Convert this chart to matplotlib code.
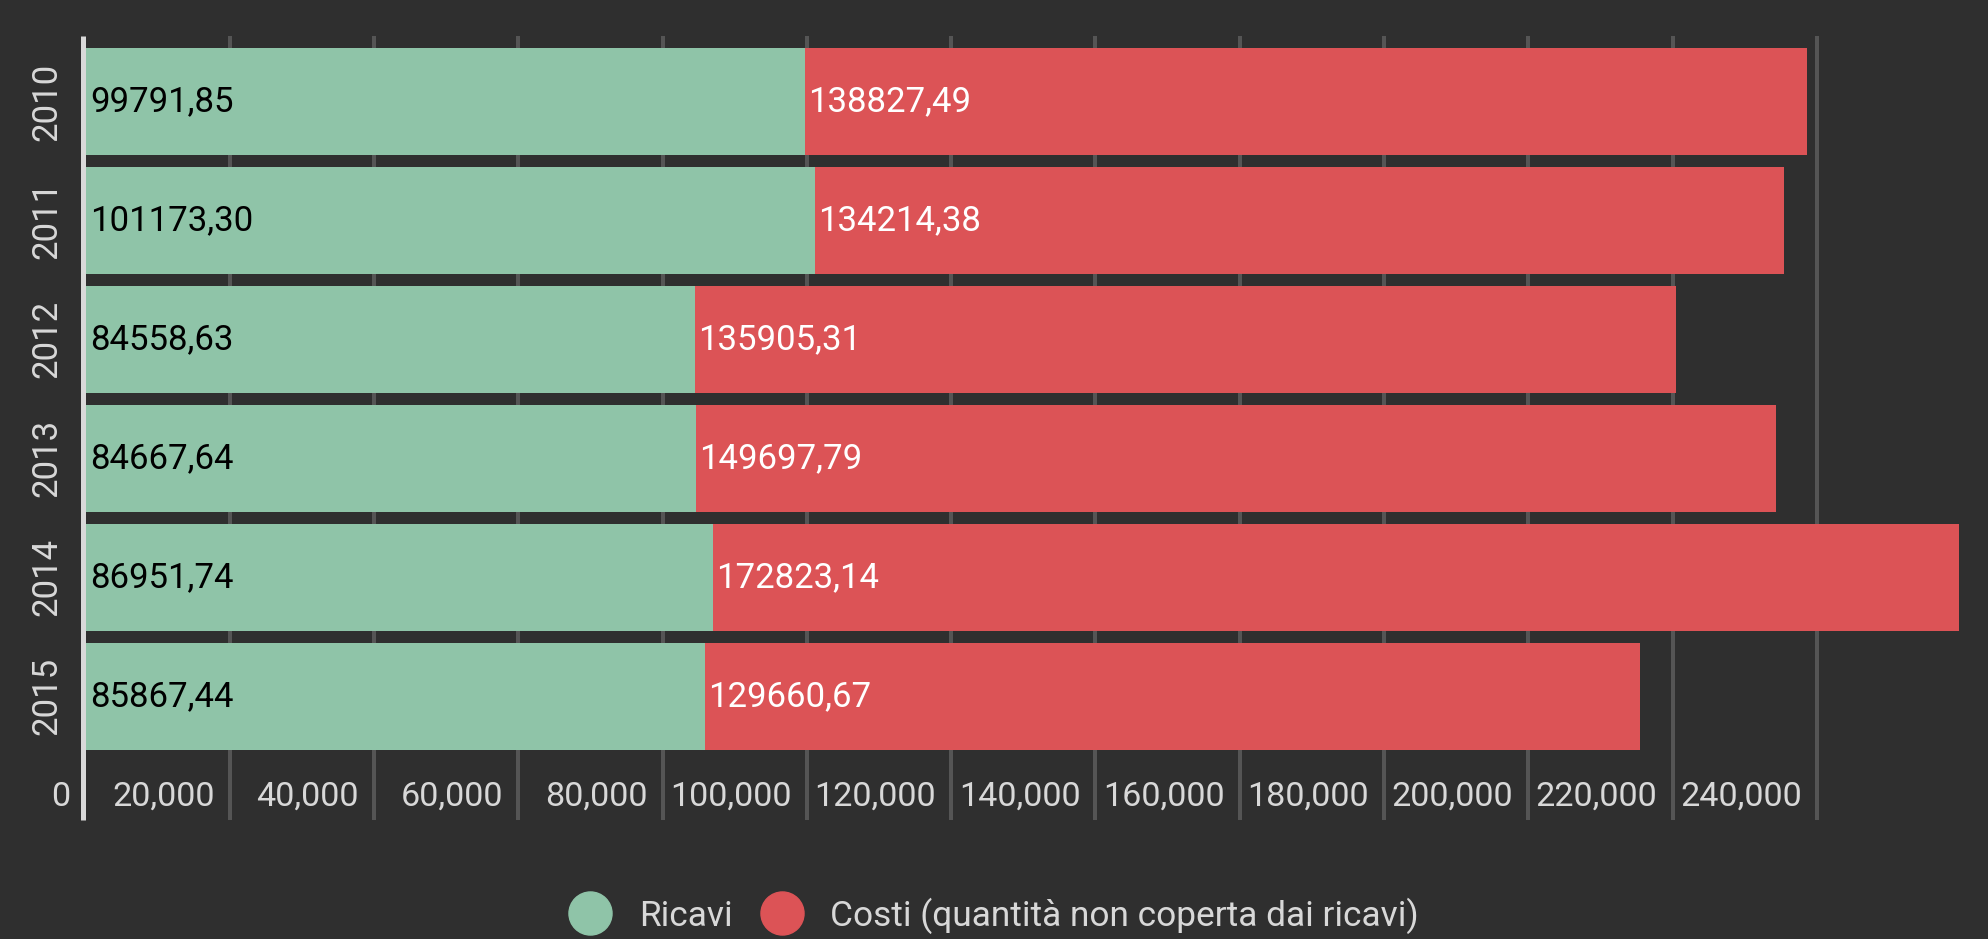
import matplotlib
matplotlib.use("Agg")
import matplotlib.pyplot as plt
from matplotlib.lines import Line2D
from matplotlib.transforms import ScaledTranslation, blended_transform_factory

plt.rcParams['font.family'] = ['Roboto', 'DejaVu Sans']

# ---- data ----
years = ["2010", "2011", "2012", "2013", "2014", "2015"]
ricavi = [99791.85, 101173.30, 84558.63, 84667.64, 86951.74, 85867.44]
costi = [138827.49, 134214.38, 135905.31, 149697.79, 172823.14, 129660.67]
x_ticks = [0, 20000, 40000, 60000, 80000, 100000, 120000, 140000,
           160000, 180000, 200000, 220000, 240000]
x_tick_labels = ["0", "20,000", "40,000", "60,000", "80,000", "100,000",
                 "120,000", "140,000", "160,000", "180,000", "200,000",
                 "220,000", "240,000"]
legend_labels = ["Ricavi", "Costi (quantità non coperta dai ricavi)"]

# ---- style ----
BG = '#2f2f2f'
GREEN = '#8fc4a8'
RED = '#dc5356'
GRID = '#555555'
TXT = '#d8d8d8'

W, H = 1988, 939
fig = plt.figure(figsize=(W / 100, H / 100), dpi=100, facecolor=BG)
ax = fig.add_axes([85.5 / W, 1 - 820 / H, (1975.5 - 85.5) / W, (820 - 36) / H])
ax.set_facecolor('none')
for s in ax.spines.values():
    s.set_visible(False)

ypos = list(range(len(years)))
ax.barh(ypos, ricavi, height=0.9, color=GREEN, zorder=2)
ax.barh(ypos, costi, left=ricavi, height=0.9, color=RED, zorder=2)

ax.set_xlim(0, 262000)
ax.set_ylim(6.04, -0.55)

ax.set_xticks(x_ticks[1:])
ax.set_yticks([])
ax.xaxis.grid(True, color=GRID, linewidth=2.9, zorder=1)
ax.set_axisbelow(True)
ax.tick_params(axis='x', length=0, labelbottom=False)

# tick labels (drawn inside the plotting area, right-aligned left of gridline)
off = ScaledTranslation(-15 / 100, 0, fig.dpi_scale_trans)
for v, lab in zip(x_ticks, x_tick_labels):
    ax.text(v, 5.845, lab, transform=ax.transData + off, ha='right', va='center',
            color=TXT, fontsize=24.6, zorder=3)

# left axis line
fig.add_artist(Line2D([82.5 / W, 82.5 / W], [1 - 36 / H, 1 - 820 / H],
                      transform=fig.transFigure, color='#d9d9d9', lw=3.6,
                      solid_capstyle='butt'))

# year labels
ytr = blended_transform_factory(fig.transFigure, ax.transData)
for y, yr in zip(ypos, years):
    ax.text(47 / W, y, yr, transform=ytr, rotation=90, ha='center', va='center',
            color=TXT, fontsize=25)

# value labels
def fmt(v):
    return f"{v:.2f}".replace('.', ',')

for y, r, c in zip(ypos, ricavi, costi):
    ax.annotate(fmt(r), xy=(0, y), xytext=(5, 0), textcoords='offset pixels',
                ha='left', va='center', color='black', fontsize=25, zorder=4)
    ax.annotate(fmt(c), xy=(r, y), xytext=(3, 0), textcoords='offset pixels',
                ha='left', va='center', color='white', fontsize=25, zorder=4)

# legend
for cx, col, tx, lab in [(590, GREEN, 639, legend_labels[0]),
                         (782, RED, 830, legend_labels[1])]:
    fig.add_artist(Line2D([cx / W], [1 - 913 / H], transform=fig.transFigure,
                          marker='o', markersize=31, color=col, linestyle='none'))
    fig.text(tx / W, 1 - 916 / H, lab, ha='left', va='center', color=TXT,
             fontsize=25.4)

fig.savefig('out.png', dpi=100, facecolor=BG)
